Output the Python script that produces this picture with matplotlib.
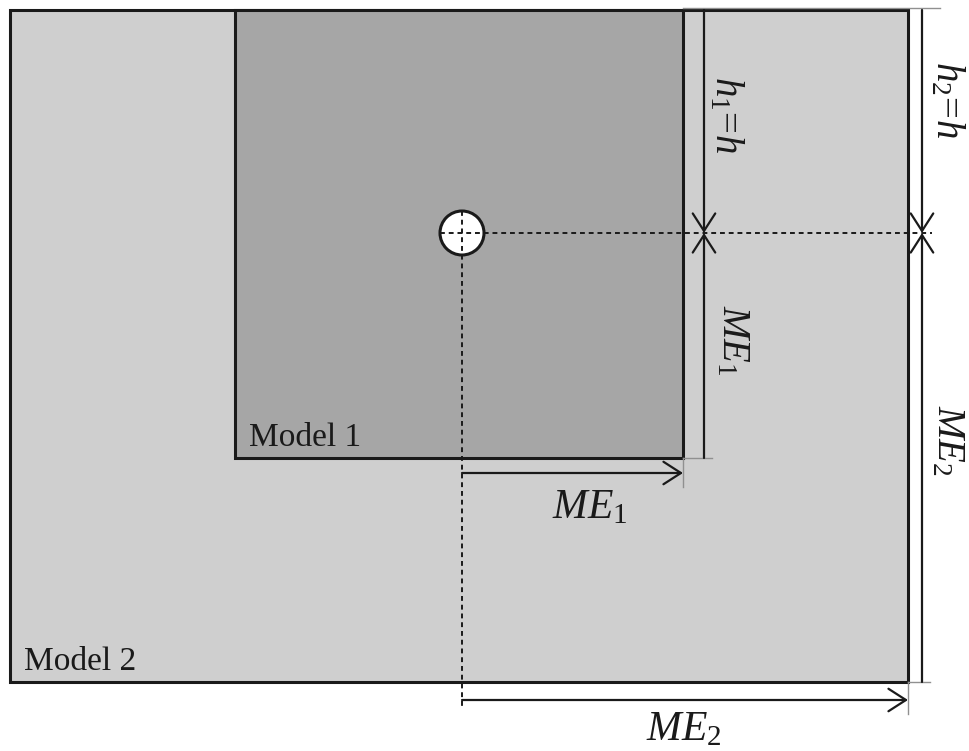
import matplotlib
matplotlib.use("Agg")
import matplotlib.pyplot as plt
from matplotlib.patches import Rectangle, Circle

plt.rcParams['font.family'] = 'serif'
plt.rcParams['font.serif'] = ['Liberation Serif', 'Times New Roman', 'DejaVu Serif']
plt.rcParams['mathtext.fontset'] = 'custom'
plt.rcParams['mathtext.rm'] = 'Liberation Serif'
plt.rcParams['mathtext.it'] = 'Liberation Serif:italic'

# model domains, in picture units (y grows downwards); index 0 = Model 1, 1 = Model 2
model_names = ['Model 1', 'Model 2']
model_left = [235, 10]
model_right = [683, 908]
model_top = [10, 10]
model_bottom = [458, 682]
model_fill = ['#a6a6a6', '#cfcfcf']

# excavation (circle) centre and radius
hole_x, hole_y, hole_r = 462, 233, 22

# dimension positions
dim_x = [704, 922]          # vertical dimension lines for model 1 and 2
dim_y = [473, 700]          # horizontal dimension lines for model 1 and 2
h_labels = [r'$h_\mathit{1}\!=\!h$', r'$h_\mathit{2}\!=\!h$']
me_labels = [r'$ME_\mathit{1}$', r'$ME_\mathit{2}$']

fig = plt.figure(figsize=(9.69, 7.51), dpi=100)
ax = fig.add_axes([0, 0, 1, 1])
ax.set_xlim(0, 969)
ax.set_ylim(751, 0)
ax.axis('off')

for i in [1, 0]:
    ax.add_patch(Rectangle((model_left[i], model_top[i]),
                           model_right[i] - model_left[i],
                           model_bottom[i] - model_top[i],
                           facecolor=model_fill[i], edgecolor='#1a1a1a', lw=2.2, zorder=2 - i))
    ax.text(model_left[i] + 14, model_bottom[i] - 12, model_names[i], fontsize=24,
            ha='left', va='baseline', color='#1a1a1a', zorder=5)

# dashed axes through the hole
ax.plot([hole_x - hole_r, dim_x[1] + 10], [hole_y, hole_y], ls=(0, (2.5, 2)), color='#1a1a1a', lw=1.4, zorder=6)
ax.plot([hole_x, hole_x], [hole_y - hole_r, dim_y[1] + 6], ls=(0, (2.5, 2)), color='#1a1a1a', lw=1.4, zorder=6)
ax.add_patch(Circle((hole_x, hole_y), hole_r, facecolor='white', edgecolor='#1a1a1a', lw=2.2, zorder=5))

arrow = dict(arrowstyle='->,head_length=0.7,head_width=0.45', color='#1a1a1a', lw=1.6,
             shrinkA=0, shrinkB=0, mutation_scale=18)
thin = dict(color='#909090', lw=1.0, zorder=3)

# top extension line shared by both models
ax.plot([model_right[0], dim_x[1] + 18], [model_top[0] - 2, model_top[0] - 2], **thin)
for i in range(2):
    x = dim_x[i]
    # extension lines
    ax.plot([model_right[i], x + 8], [model_bottom[i], model_bottom[i]], **thin)
    ax.plot([model_right[i], model_right[i]], [model_bottom[i], dim_y[i] + 14], **thin)
    # vertical dimensions, arrows meeting at the hole level
    ax.annotate('', xy=(x, hole_y), xytext=(x, model_top[i]), arrowprops=arrow, zorder=7)
    ax.annotate('', xy=(x, hole_y), xytext=(x, model_bottom[i]), arrowprops=arrow, zorder=7)
    # horizontal dimension from hole centre to model edge
    ax.annotate('', xy=(model_right[i], dim_y[i]), xytext=(hole_x, dim_y[i]), arrowprops=arrow, zorder=7)

ax.text(dim_x[0] + 22, 115, h_labels[0], rotation=-90, fontsize=28, ha='center', va='center', color='#1a1a1a')
ax.text(dim_x[1] + 25, 100, h_labels[1], rotation=-90, fontsize=28, ha='center', va='center', color='#1a1a1a')
ax.text(dim_x[0] + 28, 340, me_labels[0], rotation=-90, fontsize=28, ha='center', va='center', color='#1a1a1a')
ax.text(dim_x[1] + 25, 440, me_labels[1], rotation=-90, fontsize=28, ha='center', va='center', color='#1a1a1a')
ax.text(590, 508, me_labels[0], fontsize=30, ha='center', va='center', color='#1a1a1a')
ax.text(684, 730, me_labels[1], fontsize=30, ha='center', va='center', color='#1a1a1a')

fig.savefig('out.png', dpi=100, facecolor='white')
